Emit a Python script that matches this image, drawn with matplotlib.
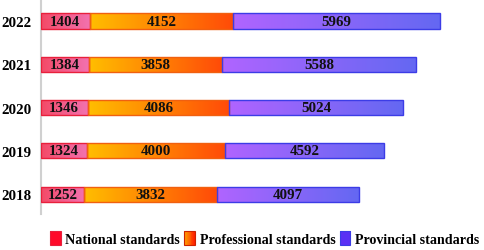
import numpy as np
import matplotlib.pyplot as plt
from matplotlib.colors import LinearSegmentedColormap, to_rgb
from matplotlib.patches import Rectangle
from matplotlib.legend_handler import HandlerBase

years = ['2018', '2019', '2020', '2021', '2022']
national = [1252, 1324, 1346, 1384, 1404]
professional = [3832, 4000, 4086, 3858, 4152]
provincial = [4097, 4592, 5024, 5588, 5969]

series = [
    ('National standards', national, '#f44a66', '#f272b0', '#e8203c', ('#ff0a2a', '#ff0a2a')),
    ('Professional standards', professional, '#ffbe00', '#ff4a08', '#f06010', ('#ffa000', '#ff2000')),
    ('Provincial standards', provincial, '#b064ff', '#6468f2', '#3c3ce6', ('#5a30f4', '#5a30f4')),
]

plt.rcParams['font.family'] = ['Liberation Serif', 'DejaVu Serif']
plt.rcParams['font.weight'] = 'bold'


class GradientHandler(HandlerBase):
    def __init__(self, c0, c1, edge):
        super().__init__()
        self.c0, self.c1, self.edge = np.array(to_rgb(c0)), np.array(to_rgb(c1)), edge

    def create_artists(self, legend, orig_handle, xdescent, ydescent, width, height, fontsize, trans):
        arts = []
        n = 12
        w = height * 1.0
        x0 = -xdescent + (width - w) / 2
        for i in range(n):
            c = self.c0 + (self.c1 - self.c0) * i / (n - 1)
            arts.append(Rectangle((x0 + w * i / n, -ydescent - 1), w / n + 0.3, height + 2,
                                  facecolor=c, edgecolor='none', transform=trans))
        arts.append(Rectangle((x0, -ydescent - 1), w, height + 2, facecolor='none',
                              edgecolor=self.edge, linewidth=0.8, transform=trans))
        return arts


fig = plt.figure(figsize=(4.84, 2.51), dpi=100)
ax = fig.add_axes([41 / 484, 36 / 251, 1 - 41 / 484, 215 / 251])

y = np.arange(len(years))
left = np.zeros(len(years))
handles = []
hmap = {}
for name, vals, c0, c1, edge, leg in series:
    vals = np.array(vals)
    bars = ax.barh(y, vals, left=left, height=0.35, facecolor='none', edgecolor=edge,
                   linewidth=1.0, zorder=3)
    cmap = LinearSegmentedColormap.from_list(name, [c0, c1])
    grad = np.linspace(0, 1, 256).reshape(1, -1)
    for rect in bars:
        x0, y0 = rect.get_x(), rect.get_y()
        im = ax.imshow(grad, cmap=cmap, extent=[x0, x0 + rect.get_width(), y0, y0 + rect.get_height()],
                       aspect='auto', zorder=2, interpolation='bilinear')
        im.set_clip_path(rect)
    for yi, l, v in zip(y, left, vals):
        ax.text(l + v / 2, yi, str(v), ha='center', va='center', fontsize=10.8,
                fontweight='bold', color='#111111', zorder=4)
    left = left + vals
    h = Rectangle((0, 0), 1, 1, label=name)
    handles.append(h)
    hmap[h] = GradientHandler(leg[0], leg[1], '#cc2200' if name.startswith('Prof') else edge)

ax.set_xlim(0, 12796)
ax.set_ylim(-0.46, 4.51)
ax.set_yticks(y)
ax.set_yticklabels(years, fontsize=10.8, fontweight='bold')
ax.tick_params(axis='y', length=0, pad=6.5)
ax.set_xticks([])
for s in ['top', 'right', 'bottom']:
    ax.spines[s].set_visible(False)
ax.spines['left'].set_color('#d0d0d0')
ax.spines['left'].set_linewidth(1.5)

fig.legend(handles=handles, handler_map=hmap, loc='center left', bbox_to_anchor=(43 / 484, 11 / 251),
           ncol=3, frameon=False, handlelength=0.75, handleheight=0.8, borderpad=0,
           handletextpad=0.35, columnspacing=0.3, prop={'weight': 'bold', 'size': 10.1})

fig.savefig('out.png', dpi=100)
